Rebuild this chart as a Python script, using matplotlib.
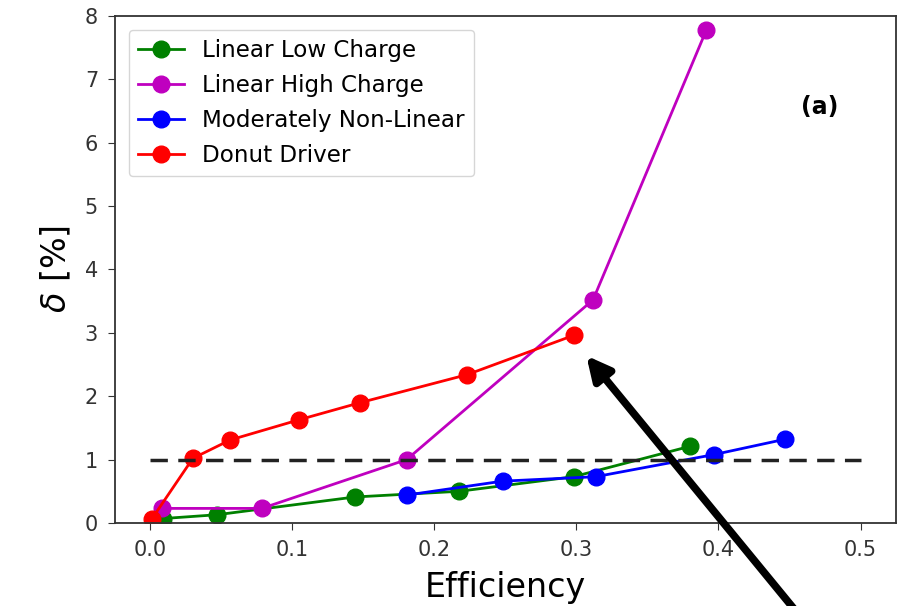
import numpy as np
import matplotlib.pyplot as plt

# efficiency vs energy spread for the four driver setups
eff_low = [0.009, 0.047, 0.144, 0.2175, 0.298, 0.380]
delta_low = [0.07, 0.13, 0.41, 0.50, 0.73, 1.21]

eff_high = [0.008, 0.0785, 0.1805, 0.3117, 0.3915]
delta_high = [0.23, 0.23, 1.00, 3.52, 7.78]

eff_nonlin = [0.1805, 0.248, 0.3135, 0.397, 0.4466]
delta_nonlin = [0.44, 0.66, 0.73, 1.08, 1.32]

eff_donut = [0.001, 0.030, 0.0563, 0.105, 0.148, 0.223, 0.298]
delta_donut = [0.06, 1.02, 1.31, 1.63, 1.90, 2.34, 2.96]

threshold = 1.0

fig = plt.figure(figsize=(8.99, 6.06), dpi=100)
ax = fig.add_axes([0.1276, 0.137, 0.8691, 0.8366])

kw = dict(marker='o', markersize=12, lw=2)
ax.plot(eff_low, delta_low, color='green', label='Linear Low Charge', **kw)
ax.plot(eff_high, delta_high, color='m', label='Linear High Charge', **kw)
ax.plot(eff_nonlin, delta_nonlin, color='blue', label='Moderately Non-Linear', **kw)
ax.plot(eff_donut, delta_donut, color='red', label='Donut Driver', **kw)
ax.plot([0.0, 0.5], [threshold, threshold], '--', color='#222222', lw=2.5, dashes=(5, 3))

ax.set_xlim(-0.025, 0.525)
ax.set_ylim(0, 8)
ax.set_xticks(np.arange(0, 0.51, 0.1))
ax.set_yticks(range(0, 9))
ax.tick_params(labelsize=15, length=5, pad=7, color='#333333', labelcolor='#333333')
for s in ax.spines.values():
    s.set_color('#333333')
    s.set_linewidth(1.3)

ax.set_xlabel('Efficiency', fontsize=24, labelpad=8)
ax.set_ylabel(r'$\delta$ [%]', fontsize=24, labelpad=8)

ax.legend(loc='upper left', fontsize=16.6, handlelength=2, borderaxespad=0.6,
          labelspacing=0.52, handletextpad=0.8, framealpha=0.8)

ax.text(0.471, 6.56, '(a)', fontsize=17, fontweight='bold', ha='center', va='center')

# pointer to the last donut-driver point
ax.annotate('', xy=(0.307, 2.64), xycoords='data',
            xytext=(808, -20), textcoords='figure pixels',
            annotation_clip=False,
            arrowprops=dict(arrowstyle='-|>', lw=5.5, color='black',
                            mutation_scale=35, shrinkA=0, shrinkB=0))

fig.savefig('out.png', dpi=100)
